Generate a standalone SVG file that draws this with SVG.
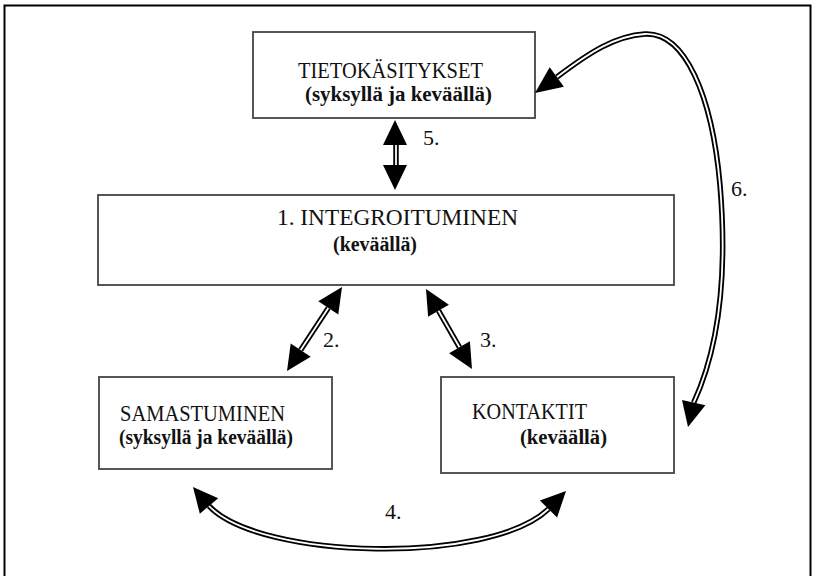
<svg xmlns="http://www.w3.org/2000/svg" width="814" height="576" viewBox="0 0 814 576">
<style>
.box{fill:#fff;stroke:#444;stroke-width:1.8}
.t{font-family:"Liberation Serif","Times New Roman",serif;font-size:23px;fill:#111}
.n{font-family:"Liberation Serif","Times New Roman",serif;font-size:22px;fill:#111}
.b{font-family:"Liberation Serif","Times New Roman",serif;font-size:20px;font-weight:bold;fill:#111}
.so{fill:none;stroke:#000;stroke-width:5.5}
.si{fill:none;stroke:#fff;stroke-width:1.8}
.hd{fill:#000}
</style>
<rect x="0" y="0" width="814" height="576" fill="#fff"/>
<path d="M4.5,600 V5.5 H810.5 V600" fill="none" stroke="#000" stroke-width="2"/>
<g id="tieto">
<rect class="box" x="253" y="32" width="282" height="86"/>
<text class="t" x="298" y="78" textLength="185" lengthAdjust="spacingAndGlyphs">TIETOKÄSITYKSET</text>
<text class="b" x="305" y="101" textLength="187" lengthAdjust="spacingAndGlyphs">(syksyllä ja keväällä)</text>
</g>
<g id="integ">
<rect class="box" x="98" y="195" width="576" height="90"/>
<text class="t" x="277" y="225" textLength="241" lengthAdjust="spacingAndGlyphs">1. INTEGROITUMINEN</text>
<text class="b" x="333" y="251" textLength="84" lengthAdjust="spacingAndGlyphs">(keväällä)</text>
</g>
<g id="samast">
<rect class="box" x="99" y="377" width="233" height="92"/>
<text class="t" x="120" y="421" textLength="165" lengthAdjust="spacingAndGlyphs">SAMASTUMINEN</text>
<text class="b" x="119" y="444" textLength="174" lengthAdjust="spacingAndGlyphs">(syksyllä ja keväällä)</text>
</g>
<g id="kontaktit">
<rect class="box" x="441" y="377" width="233" height="96"/>
<text class="t" x="472" y="419" textLength="115" lengthAdjust="spacingAndGlyphs">KONTAKTIT</text>
<text class="b" x="520" y="444" textLength="87" lengthAdjust="spacingAndGlyphs">(keväällä)</text>
</g>
<g id="connectors">
<path class="so" d="M396,143 V167"/>
<path class="so" d="M328.3,307.9 L300.7,350.1"/>
<path class="so" d="M438.5,310.7 L459.5,347.3"/>
<path class="so" d="M209,506 C260,560 490,565 548.5,509"/>
<path class="so" d="M557,77 C590,52 615,36 645,34 C685,32 712,95 720,185 C728,280 718,350 693.7,402.6"/>
<path class="si" d="M396,143 V167"/>
<path class="si" d="M328.3,307.9 L300.7,350.1"/>
<path class="si" d="M438.5,310.7 L459.5,347.3"/>
<path class="si" d="M209,506 C260,560 490,565 548.5,509"/>
<path class="si" d="M557,77 C590,52 615,36 645,34 C685,32 712,95 720,185 C728,280 718,350 693.7,402.6"/>
<polygon class="hd" points="395,120 383,145 407,145"/>
<polygon class="hd" points="395,190 383,165 407,165"/>
<polygon class="hd" points="342,287 338.3,314.5 318.3,301.3"/>
<polygon class="hd" points="287,371 310.7,356.7 290.7,343.5"/>
<polygon class="hd" points="426,289 448.9,304.7 428.1,316.7"/>
<polygon class="hd" points="472,369 469.9,341.3 449.1,353.3"/>
<polygon class="hd" points="193,487 218.2,498.3 199.8,513.7"/>
<polygon class="hd" points="566,491 557.1,517.4 539.9,500.6"/>
<polygon class="hd" points="535,93 563.9,86.7 549.7,67.3"/>
<polygon class="hd" points="688,427 705.4,405.3 682,399.9"/>
<text class="n" x="423" y="145">5.</text>
<text class="n" x="323" y="347">2.</text>
<text class="n" x="480" y="347">3.</text>
<text class="n" x="385" y="519">4.</text>
<text class="n" x="731" y="196">6.</text>
</g>
</svg>
